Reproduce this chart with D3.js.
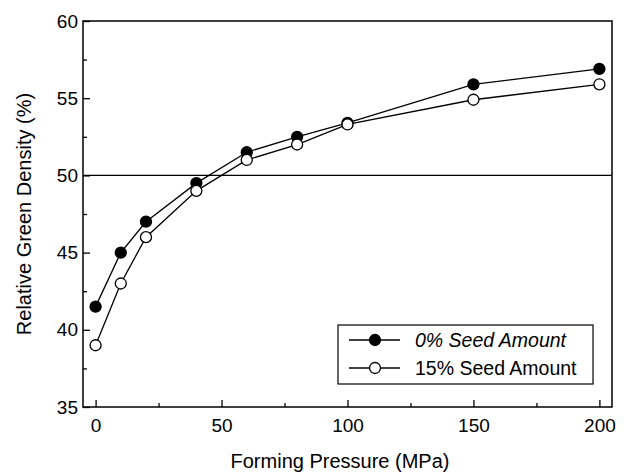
<!DOCTYPE html>
<html>
<head>
<meta charset="utf-8">
<script src="https://cdn.jsdelivr.net/npm/d3@7"></script>
<style>
  body { margin: 0; background: #fff; }
  svg { font-family: "Liberation Sans", Arial, sans-serif; }
</style>
</head>
<body>
<div class="chart"></div>
<script>
// forming pressure (MPa)
const pressure = [0, 10, 20, 40, 60, 80, 100, 150, 200];
// relative green density (%)
const seed0 = [41.5, 45.0, 47.0, 49.5, 51.5, 52.5, 53.4, 55.9, 56.9];
const seed15 = [39.0, 43.0, 46.0, 49.0, 51.0, 52.0, 53.3, 54.9, 55.9];
const seriesNames = ["0% Seed Amount", "15% Seed Amount"];
const xTicks = [0, 50, 100, 150, 200];
const yTicks = [35, 40, 45, 50, 55, 60];

const W = 627, H = 473;
const margin = {top: 21, right: 15, bottom: 66, left: 83};
const width = W - margin.left - margin.right,
      height = H - margin.top - margin.bottom;

const svg = d3.select('.chart').append('svg')
    .attr('width', W).attr('height', H);
const g = svg.append('g')
    .attr('transform', `translate(${margin.left},${margin.top})`);

const xScale = d3.scaleLinear().domain([-5, 205]).range([0, width]);
const yScale = d3.scaleLinear().domain([35, 60]).range([height, 0]);

// reference line at 50
g.append('line')
    .attr('x1', 0).attr('x2', width)
    .attr('y1', yScale(50)).attr('y2', yScale(50))
    .attr('stroke', '#000').attr('stroke-width', 1.3);

// frame
g.append('rect')
    .attr('width', width).attr('height', height)
    .attr('fill', 'none').attr('stroke', '#000').attr('stroke-width', 1.5);

// axes, ticks pointing inward
const xAxis = d3.axisBottom(xScale).tickValues(xTicks).tickSize(-7).tickPadding(12);
const xMinor = d3.axisBottom(xScale).tickValues([25, 75, 125, 175]).tickSize(-4).tickFormat('');
const yAxis = d3.axisLeft(yScale).tickValues(yTicks).tickSize(-7).tickPadding(5);
const yMinor = d3.axisLeft(yScale).tickValues([37.5, 42.5, 47.5, 52.5, 57.5]).tickSize(-4).tickFormat('');

[[xAxis, true], [xMinor, true], [yAxis, false], [yMinor, false]].forEach(([ax, isX]) => {
    const a = g.append('g')
        .attr('transform', isX ? `translate(0,${height})` : null)
        .call(ax);
    a.select('.domain').remove();
    a.selectAll('line').attr('stroke', '#000').attr('stroke-width', 1.3);
    a.selectAll('text').attr('font-size', 19).attr('fill', '#000')
        .attr('font-family', '"Liberation Sans", Arial, sans-serif');
});

const line = d3.line().x(d => xScale(d[0])).y(d => yScale(d[1]));
const series = [seed0, seed15].map(vals => pressure.map((p, i) => [p, vals[i]]));
const fills = ['#000', '#fff'];

series.forEach((pts, k) => {
    g.append('path').datum(pts)
        .attr('d', line).attr('fill', 'none')
        .attr('stroke', '#000').attr('stroke-width', 1.3);
});
series.forEach((pts, k) => {
    g.selectAll('.m' + k).data(pts).enter().append('circle')
        .attr('class', 'm' + k)
        .attr('cx', d => xScale(d[0])).attr('cy', d => yScale(d[1]))
        .attr('r', 5.5)
        .attr('fill', fills[k]).attr('stroke', '#000').attr('stroke-width', 1.3);
});

// axis titles
svg.append('text')
    .attr('x', 340).attr('y', 468)
    .attr('text-anchor', 'middle').attr('font-size', 20)
    .text('Forming Pressure (MPa)');
svg.append('text')
    .attr('transform', `translate(31,${margin.top + height / 2}) rotate(-90)`)
    .attr('text-anchor', 'middle').attr('font-size', 20)
    .text('Relative Green Density (%)');

// legend
const legend = svg.append('g').attr('transform', 'translate(338,325)');
legend.append('rect')
    .attr('width', 255).attr('height', 59)
    .attr('fill', '#fff').attr('stroke', '#000').attr('stroke-width', 1.2);
seriesNames.forEach((name, i) => {
    const y = 15 + i * 28;
    legend.append('line')
        .attr('x1', 11).attr('x2', 62).attr('y1', y).attr('y2', y)
        .attr('stroke', '#000').attr('stroke-width', 1.3);
    legend.append('circle')
        .attr('cx', 37).attr('cy', y).attr('r', 5.5)
        .attr('fill', fills[i]).attr('stroke', '#000').attr('stroke-width', 1.3);
    legend.append('text')
        .attr('x', 77).attr('y', y + 7)
        .attr('font-size', 19.5)
        .attr('font-style', i === 0 ? 'italic' : 'normal')
        .text(name);
});
</script>
</body>
</html>
